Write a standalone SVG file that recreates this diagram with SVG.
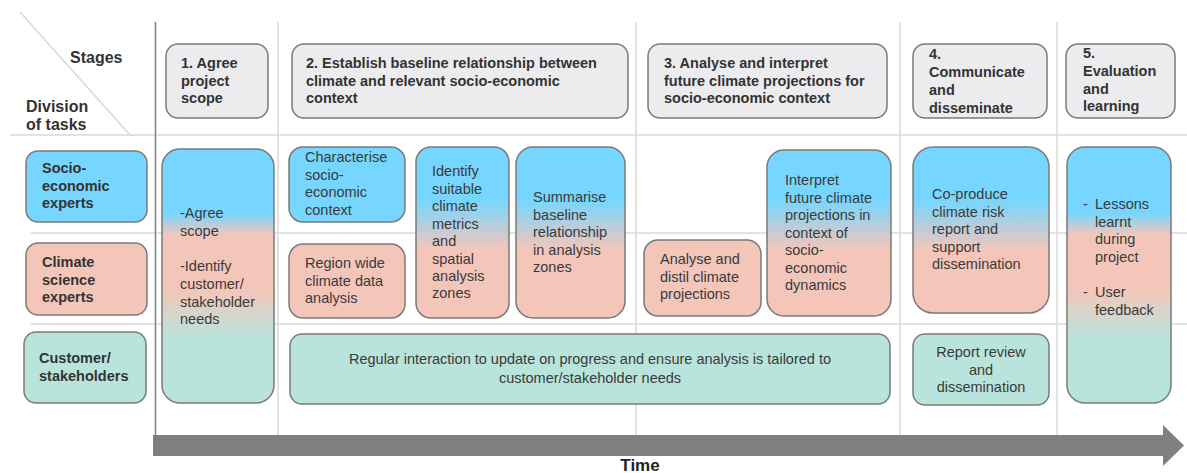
<svg xmlns="http://www.w3.org/2000/svg" width="1187" height="473" viewBox="0 0 1187 473">
<defs>
<linearGradient id="g2" gradientUnits="userSpaceOnUse" x1="0" y1="0" x2="0" y2="473">
<stop offset="0.423" stop-color="#76d6ff"/><stop offset="0.528" stop-color="#f4c6ba"/>
</linearGradient>
<linearGradient id="g3" gradientUnits="userSpaceOnUse" x1="0" y1="0" x2="0" y2="473">
<stop offset="0.450" stop-color="#76d6ff"/><stop offset="0.497" stop-color="#f4c6ba"/>
<stop offset="0.613" stop-color="#f4c6ba"/><stop offset="0.713" stop-color="#b9e4dc"/>
</linearGradient>
<style>
.grid{stroke:#d9d9d9;stroke-width:1.5;fill:none}
.stage{fill:#ececee;stroke:#7a7a7a;stroke-width:1.5}
.box{stroke:#7a7a7a;stroke-width:1.5}
.blue{fill:#76d6ff}.pink{fill:#f4c6ba}.teal{fill:#b9e4dc}
.b{font-family:"Liberation Sans",Arial,sans-serif;font-weight:bold;font-size:14.5px;fill:#333}
.h{font-family:"Liberation Sans",Arial,sans-serif;font-weight:bold;font-size:16px;fill:#333}
.t{font-family:"Liberation Sans",Arial,sans-serif;font-size:14.5px;fill:#3a3a3a}
</style>
</defs>
<rect width="1187" height="473" fill="#ffffff"/>
<g id="grid">
<line class="grid" x1="20" y1="12" x2="130" y2="135"/>
<line class="grid" x1="10" y1="135" x2="1187" y2="135"/>
<line class="grid" x1="31" y1="233" x2="1187" y2="233"/>
<line class="grid" x1="31" y1="324" x2="1187" y2="324"/>
<line class="grid" x1="278" y1="22" x2="278" y2="435"/>
<line class="grid" x1="636" y1="22" x2="636" y2="435"/>
<line class="grid" x1="900" y1="22" x2="900" y2="435"/>
<line class="grid" x1="1057" y1="22" x2="1057" y2="435"/>
<line x1="155.5" y1="22" x2="155.5" y2="436" stroke="#7f7f7f" stroke-width="1.5"/>
</g>
<g id="header">
<text class="h" x="70" y="63">Stages</text>
<text class="h" x="26" y="112">Division</text>
<text class="h" x="26" y="130">of tasks</text>
</g>
<g id="stage1"><rect class="stage" x="166" y="44" width="102" height="74" rx="12"/>
<text class="b" x="181" y="68">1. Agree</text><text class="b" x="181" y="86">project</text><text class="b" x="181" y="103">scope</text></g>
<g id="stage2"><rect class="stage" x="292" y="44" width="336" height="74" rx="12"/>
<text class="b" x="306" y="68">2. Establish baseline relationship between</text><text class="b" x="306" y="86">climate and relevant socio-economic</text><text class="b" x="306" y="103">context</text></g>
<g id="stage3"><rect class="stage" x="648" y="44" width="239" height="74" rx="12"/>
<text class="b" x="664" y="68">3. Analyse and interpret</text><text class="b" x="664" y="86">future climate projections for</text><text class="b" x="664" y="103">socio-economic context</text></g>
<g id="stage4"><rect class="stage" x="913" y="44" width="134" height="74" rx="12"/>
<text class="b" x="929" y="59">4.</text><text class="b" x="929" y="77">Communicate</text><text class="b" x="929" y="95">and</text><text class="b" x="929" y="113">disseminate</text></g>
<g id="stage5"><rect class="stage" x="1066" y="44" width="109" height="74" rx="12"/>
<text class="b" x="1083" y="58">5.</text><text class="b" x="1083" y="76">Evaluation</text><text class="b" x="1083" y="94">and</text><text class="b" x="1083" y="111">learning</text></g>
<g id="row-socio"><rect class="box blue" x="26" y="151" width="121" height="71" rx="12"/>
<text class="b" x="42" y="173">Socio-</text><text class="b" x="42" y="191">economic</text><text class="b" x="42" y="208">experts</text></g>
<g id="row-climate"><rect class="box pink" x="26" y="243" width="121" height="72" rx="12"/>
<text class="b" x="42" y="267">Climate</text><text class="b" x="42" y="285">science</text><text class="b" x="42" y="302">experts</text></g>
<g id="row-customer"><rect class="box teal" x="24" y="332" width="122" height="71" rx="12"/>
<text class="b" x="39" y="363">Customer/</text><text class="b" x="39" y="381">stakeholders</text></g>
<g id="task-agree"><rect class="box" fill="url(#g3)" x="162" y="149" width="112" height="254" rx="18"/>
<text class="t" x="180" y="218">-Agree</text><text class="t" x="180" y="236">scope</text>
<text class="t" x="180" y="271">-Identify</text><text class="t" x="180" y="289">customer/</text><text class="t" x="180" y="307">stakeholder</text><text class="t" x="180" y="324">needs</text></g>
<g id="task-characterise"><rect class="box blue" x="289" y="147" width="116" height="75" rx="14"/>
<text class="t" x="305" y="162">Characterise</text><text class="t" x="305" y="180">socio-</text><text class="t" x="305" y="197">economic</text><text class="t" x="305" y="215">context</text></g>
<g id="task-region"><rect class="box pink" x="289" y="244" width="116" height="74" rx="14"/>
<text class="t" x="305" y="268">Region wide</text><text class="t" x="305" y="286">climate data</text><text class="t" x="305" y="303">analysis</text></g>
<g id="task-identify"><rect class="box" fill="url(#g2)" x="416" y="147" width="93" height="171" rx="15"/>
<text class="t" x="432" y="176">Identify</text><text class="t" x="432" y="194">suitable</text><text class="t" x="432" y="211">climate</text><text class="t" x="432" y="229">metrics</text><text class="t" x="432" y="246">and</text><text class="t" x="432" y="264">spatial</text><text class="t" x="432" y="281">analysis</text><text class="t" x="432" y="298">zones</text></g>
<g id="task-summarise"><rect class="box" fill="url(#g2)" x="516" y="147" width="109" height="171" rx="17"/>
<text class="t" x="533" y="202">Summarise</text><text class="t" x="533" y="220">baseline</text><text class="t" x="533" y="237">relationship</text><text class="t" x="533" y="255">in analysis</text><text class="t" x="533" y="272">zones</text></g>
<g id="task-regular"><rect class="box teal" x="290" y="334" width="600" height="70" rx="12"/>
<text class="t" x="590" y="364" text-anchor="middle">Regular interaction to update on progress and ensure analysis is tailored to</text><text class="t" x="590" y="383" text-anchor="middle">customer/stakeholder needs</text></g>
<g id="task-distil"><rect class="box pink" x="644" y="240" width="117" height="76" rx="14"/>
<text class="t" x="660" y="264">Analyse and</text><text class="t" x="660" y="282">distil climate</text><text class="t" x="660" y="299">projections</text></g>
<g id="task-interpret"><rect class="box" fill="url(#g2)" x="767" y="150" width="124" height="166" rx="17"/>
<text class="t" x="785" y="185">Interpret</text><text class="t" x="785" y="203">future climate</text><text class="t" x="785" y="220">projections in</text><text class="t" x="785" y="238">context of</text><text class="t" x="785" y="255">socio-</text><text class="t" x="785" y="273">economic</text><text class="t" x="785" y="290">dynamics</text></g>
<g id="task-coproduce"><rect class="box" fill="url(#g2)" x="913" y="147" width="136" height="166" rx="20"/>
<text class="t" x="932" y="199">Co-produce</text><text class="t" x="932" y="217">climate risk</text><text class="t" x="932" y="234">report and</text><text class="t" x="932" y="252">support</text><text class="t" x="932" y="269">dissemination</text></g>
<g id="task-report"><rect class="box teal" x="913" y="334" width="136" height="71" rx="12"/>
<text class="t" x="981" y="357" text-anchor="middle">Report review</text><text class="t" x="981" y="375" text-anchor="middle">and</text><text class="t" x="981" y="392" text-anchor="middle">dissemination</text></g>
<g id="task-evaluation"><rect class="box" fill="url(#g3)" x="1067" y="147" width="104" height="256" rx="18"/>
<text class="t" x="1083" y="209">-</text><text class="t" x="1095" y="209">Lessons</text><text class="t" x="1095" y="227">learnt</text><text class="t" x="1095" y="244">during</text><text class="t" x="1095" y="262">project</text>
<text class="t" x="1083" y="297">-</text><text class="t" x="1095" y="297">User</text><text class="t" x="1095" y="315">feedback</text></g>
<g id="connectors">
<polygon points="153,435 1163,435 1163,425 1184,445.5 1163,466 1163,456 153,456" fill="#7f7f7f"/>
</g>
<g id="time-label"><text x="640" y="471" text-anchor="middle" font-family="Liberation Sans, Arial, sans-serif" font-weight="bold" font-size="17" fill="#222">Time</text></g>
</svg>
